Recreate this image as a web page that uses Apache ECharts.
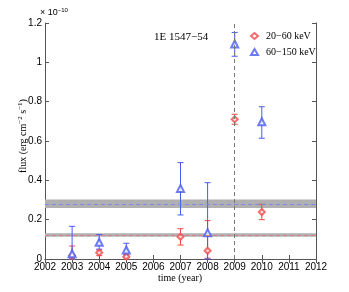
<!DOCTYPE html>
<html>
<head>
<meta charset="utf-8">
<script src="https://cdn.jsdelivr.net/npm/echarts@6/dist/echarts.min.js"></script>
<style>html,body{margin:0;padding:0;background:#fff}#c{width:349px;height:292px}</style>
</head>
<body>
<div id="c"></div>
<script>
// ---- data (flux in units of 1e-10 erg cm^-2 s^-1) ----
var years = [2003, 2004, 2005, 2007, 2008, 2009, 2010];
var soft   = [0.017, 0.032, 0.012, 0.113, 0.042, 0.710, 0.239];
var softLo = [0.000, 0.017, 0.000, 0.071, 0.004, 0.685, 0.200];
var softHi = [0.066, 0.046, 0.024, 0.154, 0.195, 0.736, 0.278];
var hard   = [0.027, 0.085, 0.046, 0.359, 0.134, 1.093, 0.698];
var hardLo = [0.000, 0.050, 0.015, 0.224, 0.000, 1.031, 0.614];
var hardHi = [0.166, 0.124, 0.080, 0.490, 0.388, 1.152, 0.774];
var hardBand = [0.259, 0.303], hardMean = 0.278;
var softBand = [0.113, 0.131], softMean = 0.122;
var outburstYear = 2009;
var xTicks = [2002, 2012, 1];
var yTicks = [0, 1.2, 0.2];

var RED = '#f04848', BLUE = '#4a5af4';
var sans = 'Liberation Sans, Arial, sans-serif';
var serif = 'Liberation Serif, Times New Roman, serif';

function errData(lo, hi) {
  return years.map(function (y, i) { return [y, lo[i], hi[i]]; });
}
function errRender(color) {
  return function (params, api) {
    var x = api.value(0);
    var p1 = api.coord([x, api.value(1)]);
    var p2 = api.coord([x, api.value(2)]);
    var w = 3;
    var st = { stroke: color, lineWidth: 1 };
    return { type: 'group', children: [
      { type: 'line', shape: { x1: p1[0], y1: p1[1], x2: p2[0], y2: p2[1] }, style: st },
      { type: 'line', shape: { x1: p1[0] - w, y1: p1[1], x2: p1[0] + w, y2: p1[1] }, style: st },
      { type: 'line', shape: { x1: p2[0] - w, y1: p2[1], x2: p2[0] + w, y2: p2[1] }, style: st }
    ]};
  };
}
function pts(vals) { return years.map(function (y, i) { return [y, vals[i]]; }); }

var axisLine = { show: true, lineStyle: { color: '#555', width: 1 } };
var tick = { show: true, inside: true, length: 4, lineStyle: { color: '#555' } };

var chart = echarts.init(document.getElementById('c'), null, { renderer: 'canvas' });
chart.setOption({
  animation: false,
  grid: { left: 45, right: 33, top: 23, bottom: 33 },
  legend: {
    orient: 'vertical', left: 245, top: 26, itemWidth: 7, itemHeight: 6, itemGap: 6,
    textStyle: { fontFamily: serif, fontSize: 10, color: '#000', padding: [0, 0, 0, 3] },
    data: ['20\u221260 keV', '60\u2212150 keV']
  },
  xAxis: [
    { type: 'value', min: xTicks[0], max: xTicks[1], interval: xTicks[2],
      axisLine: axisLine, axisTick: tick, splitLine: { show: false },
      axisLabel: { fontFamily: sans, fontSize: 10, color: '#000', margin: 3,
        formatter: function (v) { return String(v); } } },
    { type: 'value', position: 'top', min: xTicks[0], max: xTicks[1], interval: xTicks[2],
      axisLine: axisLine, axisTick: tick, splitLine: { show: false }, axisLabel: { show: false } }
  ],
  yAxis: [
    { type: 'value', min: yTicks[0], max: yTicks[1], interval: yTicks[2],
      axisLine: axisLine, axisTick: tick, splitLine: { show: false },
      axisLabel: { fontFamily: sans, fontSize: 10, color: '#000', margin: 3,
        formatter: function (v) { return String(parseFloat(v.toFixed(1))); } } },
    { type: 'value', position: 'right', min: yTicks[0], max: yTicks[1], interval: yTicks[2],
      axisLine: axisLine, axisTick: tick, splitLine: { show: false }, axisLabel: { show: false } }
  ],
  series: [
    { type: 'line', data: [], z: 1, silent: true,
      markArea: { silent: true, itemStyle: { color: '#b0b0b0', opacity: 1 },
        data: [[{ yAxis: hardBand[0] }, { yAxis: hardBand[1] }],
               [{ yAxis: softBand[0] }, { yAxis: softBand[1] }]] },
      markLine: { silent: true, symbol: 'none', label: { show: false },
        data: [
          { yAxis: hardMean, lineStyle: { color: '#7e86f0', type: [4, 3], width: 1, opacity: 1 } },
          { yAxis: softMean, lineStyle: { color: '#e07f80', type: [4, 3], width: 1, opacity: 1 } },
          { xAxis: outburstYear, lineStyle: { color: '#777', type: [4, 3], width: 1, opacity: 1 } }
        ] } },
    { type: 'custom', name: 'softErr', z: 3, renderItem: errRender(RED), data: errData(softLo, softHi) },
    { type: 'custom', name: 'hardErr', z: 3, renderItem: errRender(BLUE), data: errData(hardLo, hardHi) },
    { type: 'scatter', name: '20\u221260 keV', z: 4, symbol: 'emptyDiamond', symbolSize: 6,
      itemStyle: { color: RED, borderColor: RED, borderWidth: 1 }, data: pts(soft) },
    { type: 'scatter', name: '60\u2212150 keV', z: 4, symbol: 'emptyTriangle', symbolSize: 7,
      itemStyle: { color: BLUE, borderColor: BLUE, borderWidth: 1 }, data: pts(hard) }
  ],
  graphic: [
    { type: 'text', left: 40, top: 7, style: {
        text: '\u00d7 10{s|\u221210}', fontFamily: sans, fontSize: 9, fill: '#000',
        rich: { s: { fontSize: 6, verticalAlign: 'top', padding: [0, 0, 6, 0] } } } },
    { type: 'text', x: 154, y: 37, style: {
        text: '1E 1547\u221254', fontFamily: serif, fontSize: 11, fill: '#000', verticalAlign: 'middle' } },
    { type: 'text', x: 180, y: 278, style: {
        text: 'time (year)', fontFamily: serif, fontSize: 10, fill: '#000', align: 'center', verticalAlign: 'middle' } },
    { type: 'text', x: 23, y: 136, rotation: Math.PI / 2, style: {
        text: 'flux (erg cm{s|\u22122} s{s|\u22121})', fontFamily: serif, fontSize: 10, fill: '#000',
        align: 'center', verticalAlign: 'middle',
        rich: { s: { fontSize: 7, fontFamily: serif, padding: [0, 0, 5, 0] } } } }
  ]
});
</script>
</body>
</html>
